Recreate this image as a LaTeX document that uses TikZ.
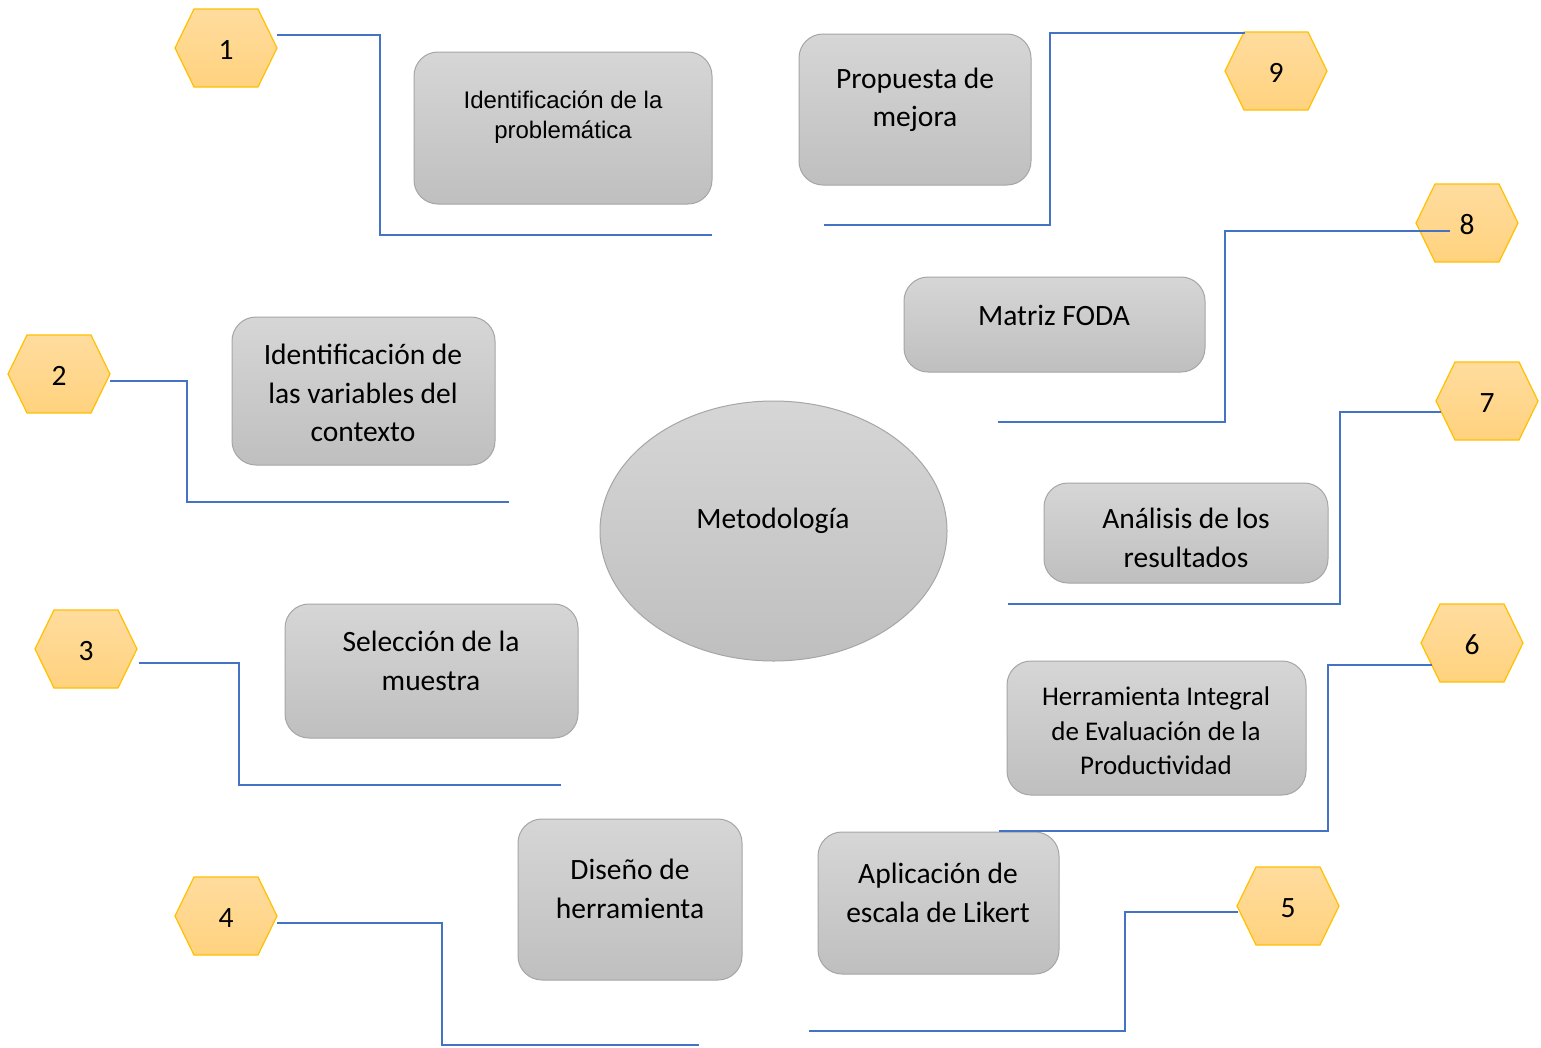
\documentclass[tikz,border=0pt]{standalone}
\usepackage{fontspec}
\setmainfont{Carlito}
\newfontfamily\arialf{Liberation Sans}
\usetikzlibrary{shapes.geometric}
\definecolor{boxtop}{HTML}{D6D6D6}
\definecolor{boxbot}{HTML}{BFBFBF}
\definecolor{boxline}{HTML}{A6A6A6}
\definecolor{hextop}{HTML}{FFDC9E}
\definecolor{hexbot}{HTML}{FFD27E}
\definecolor{hexline}{HTML}{FFC000}
\definecolor{linkblue}{HTML}{4472C4}
\tikzset{
  stepbox/.style={draw=boxline, line width=1pt, rounded corners=24pt, top color=boxtop, bottom color=boxbot, inner sep=0pt},
  boxtext/.style={align=center, font=\fontsize{29.5}{38.5}\selectfont, text=black},
  hexfill/.style={draw=hexline, line width=1.2pt, top color=hextop, bottom color=hexbot},
  hextext/.style={font=\fontsize{29.5}{30}\selectfont, inner sep=0pt},
  conn/.style={draw=linkblue, line width=1.3pt},
}
\newcommand{\hexa}[4]{%
  \path[hexfill] ({#2-51},{#3}) -- ({#2-32},{#3-39}) -- ({#2+32},{#3-39}) -- ({#2+51},{#3}) -- ({#2+32},{#3+39}) -- ({#2-32},{#3+39}) -- cycle;
  \node[hextext] (#1) at (#2,{#3+2}) {#4};}
\begin{document}
\begin{tikzpicture}[x=1pt,y=-1pt]
\useasboundingbox[fill=white] (0,0) rectangle (1541,1047);
% central ellipse
\node[ellipse, draw=boxline, line width=1pt, top color=boxtop, bottom color=boxbot, minimum width=347pt, minimum height=260pt] (met) at (773.5,531) {};
\node[boxtext] (metT) at (773,521) {Metodología};
% boxes
\node[stepbox, minimum width=298pt, minimum height=152pt] (bA) at (563,128) {};
\node[align=center, font=\arialf\fontsize{24}{30}\selectfont] (tA) at (563,117) {Identificación de la\\problemática};
\node[stepbox, minimum width=232pt, minimum height=151pt] (bB) at (915,109.5) {};
\node[boxtext] (tB) at (915,100) {Propuesta de\\mejora};
\node[stepbox, minimum width=263pt, minimum height=148pt] (bC) at (363.5,391) {};
\node[boxtext] (tC) at (363,393) {Identificación de\\las variables del\\contexto};
\node[stepbox, minimum width=301pt, minimum height=95pt] (bD) at (1054.5,324.5) {};
\node[boxtext] (tD) at (1054,315) {Matriz FODA};
\node[stepbox, minimum width=284pt, minimum height=100pt] (bE) at (1186,533) {};
\node[boxtext] (tE) at (1186,538) {Análisis de los\\resultados};
\node[stepbox, minimum width=293pt, minimum height=134pt] (bF) at (431.5,671) {};
\node[boxtext] (tF) at (431,661) {Selección de la\\muestra};
\node[stepbox, minimum width=299pt, minimum height=134pt] (bG) at (1156.5,728) {};
\node[boxtext, font=\fontsize{27}{34.5}\selectfont] (tG) at (1156,731) {Herramienta Integral\\de Evaluación de la\\Productividad};
\node[stepbox, minimum width=224pt, minimum height=161pt] (bH) at (630,899.5) {};
\node[boxtext] (tH) at (630,889) {Diseño de\\herramienta};
\node[stepbox, minimum width=241pt, minimum height=142pt] (bI) at (938.5,903) {};
\node[boxtext] (tI) at (938,893) {Aplicación de\\escala de Likert};
% hexagons
\hexa{h1}{226}{48}{1}
\hexa{h2}{59}{374}{2}
\hexa{h3}{86}{649}{3}
\hexa{h4}{226}{916}{4}
\hexa{h5}{1288}{906}{5}
\hexa{h6}{1472}{643}{6}
\hexa{h7}{1487}{401}{7}
\hexa{h8}{1467}{223}{8}
\hexa{h9}{1276}{71}{9}
% connector ends
\coordinate (s1) at (277,35);   \coordinate (e1) at (712,235);
\coordinate (s2) at (110,381);  \coordinate (e2) at (509,502);
\coordinate (s3) at (139,663);  \coordinate (e3) at (561,785);
\coordinate (s4) at (277,923);  \coordinate (e4) at (699,1045);
\coordinate (s5) at (1238,912); \coordinate (e5) at (809,1031);
\coordinate (s6) at (1432,665); \coordinate (e6) at (999,831);
\coordinate (s7) at (1441,412); \coordinate (e7) at (1008,604);
\coordinate (s8) at (1450,231); \coordinate (e8) at (998,422);
\coordinate (s9) at (1245,33);  \coordinate (e9) at (824,225);
\draw[conn] (s1) -- ++(103,0) |- (e1);
\draw[conn] (s2) -- ++(77,0) |- (e2);
\draw[conn] (s3) -- ++(100,0) |- (e3);
\draw[conn] (s4) -- ++(165,0) |- (e4);
\draw[conn] (s5) -- ++(-113,0) |- (e5);
\draw[conn] (s6) -- ++(-104,0) |- (e6);
\draw[conn] (s7) -- ++(-101,0) |- (e7);
\draw[conn] (s8) -- ++(-225,0) |- (e8);
\draw[conn] (s9) -- ++(-195,0) |- (e9);
\end{tikzpicture}
\end{document}
